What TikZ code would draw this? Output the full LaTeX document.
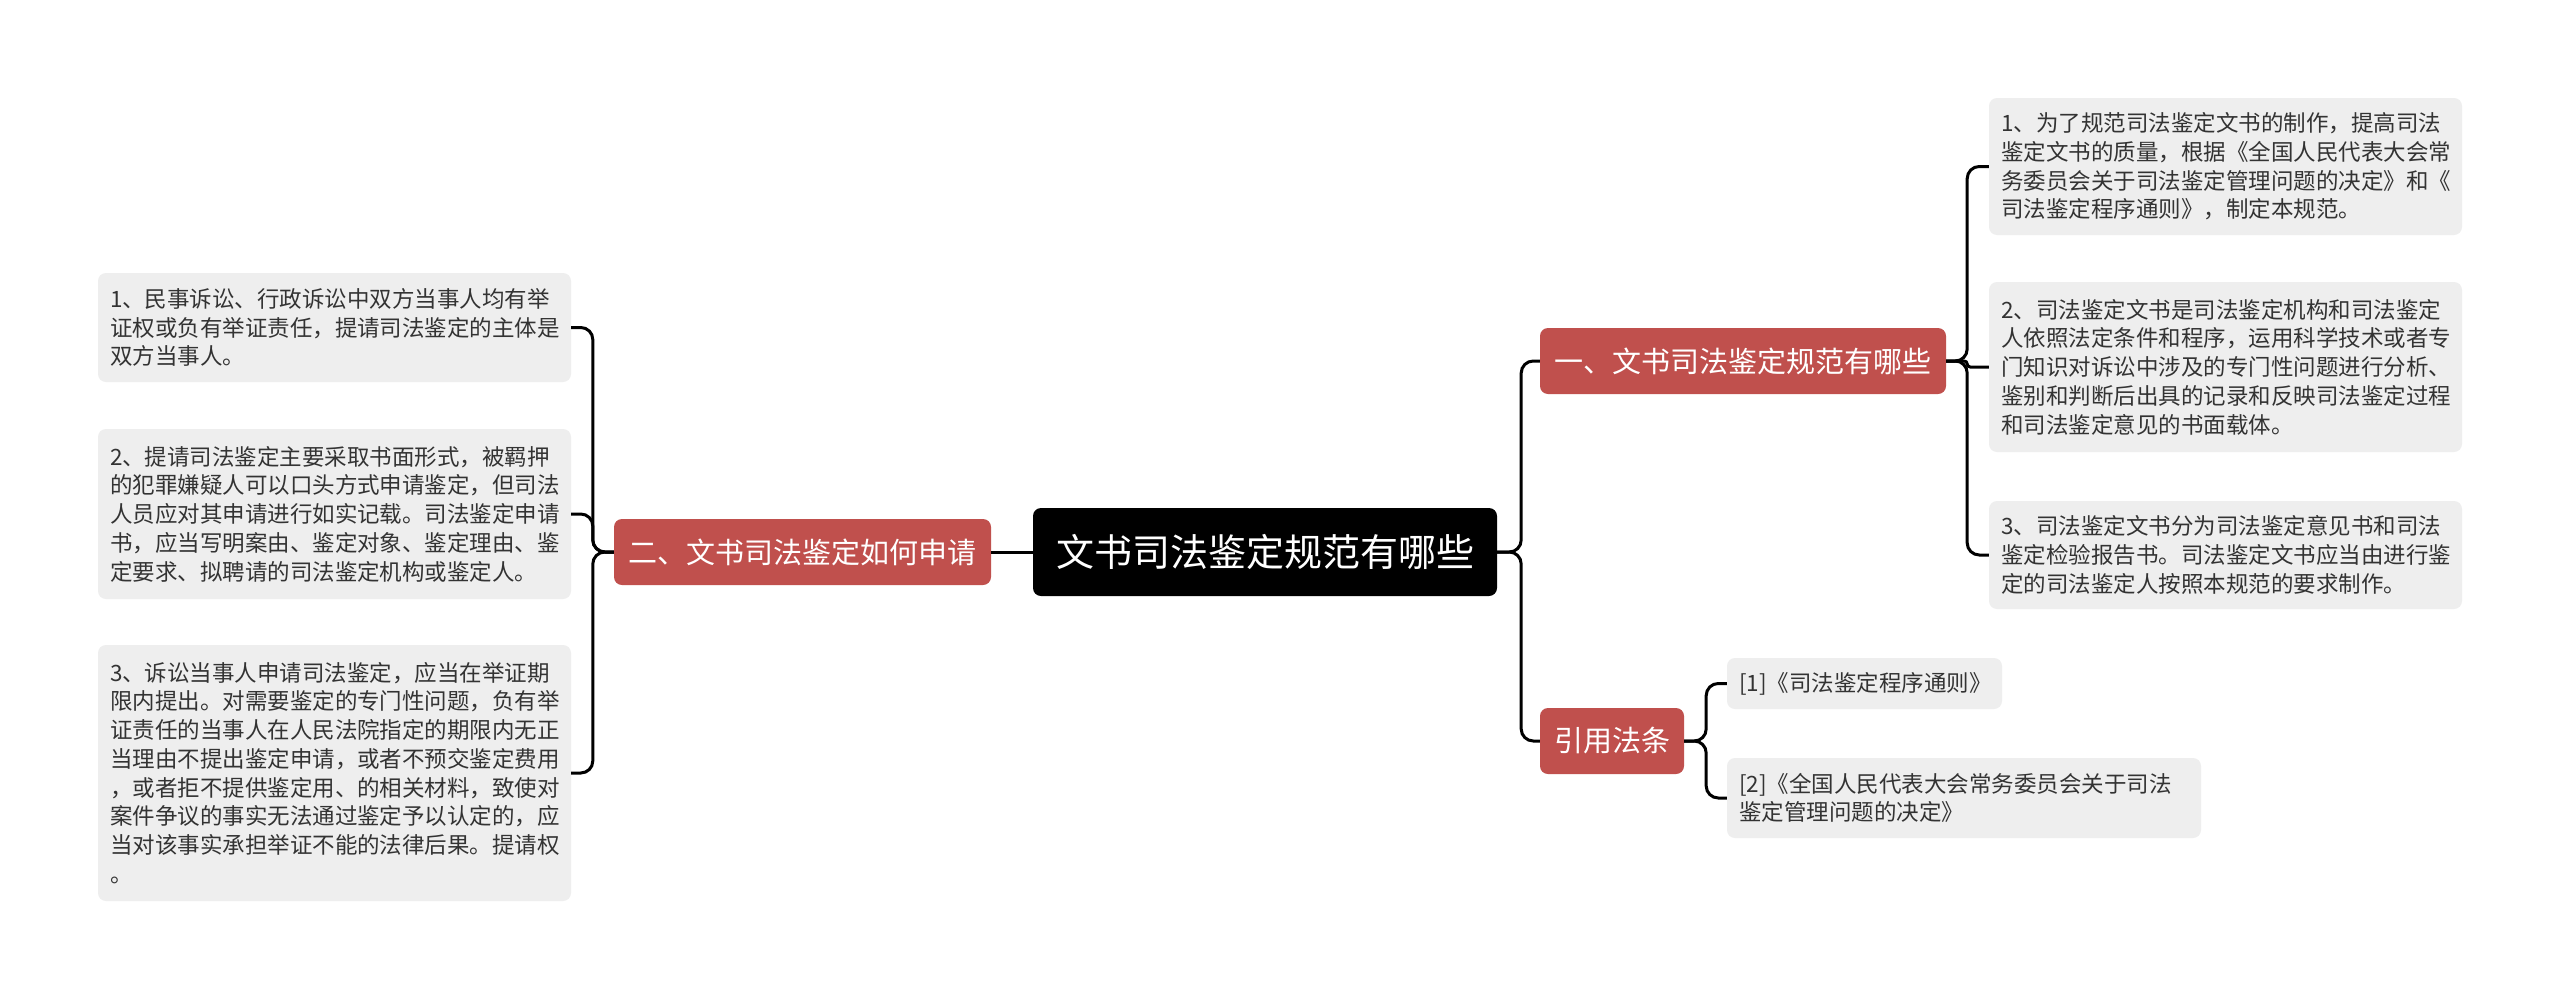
\documentclass[tikz,border=0pt]{standalone}
\usepackage{fontspec}
\newfontfamily\cjk{Noto Sans CJK SC}
\definecolor{redbox}{RGB}{192,80,77}
\definecolor{leafbg}{RGB}{238,238,238}
\definecolor{leaftxt}{RGB}{51,51,51}
\begin{document}
\begin{tikzpicture}[x=1pt,y=-1pt,
  leafbox/.style={fill=leafbg, rounded corners=8pt, text=leaftxt,
    font=\cjk\fontsize{22.5}{28.75}\selectfont, align=left,
    inner xsep=12pt, inner ysep=0pt, text width=449pt, anchor=center},
  redbox/.style={fill=redbox, rounded corners=8pt, text=white,
    font=\cjk\fontsize{29}{34}\selectfont, inner sep=0pt,
    minimum height=66pt, anchor=center},
  rootbox/.style={fill=black, rounded corners=8pt, text=white,
    font=\cjk\fontsize{38}{44}\selectfont, inner sep=0pt,
    minimum width=464pt, minimum height=88pt, anchor=center},
  conn/.style={draw=black, line width=3pt, rounded corners=12pt},
  connsmall/.style={draw=black, line width=3pt, rounded corners=3pt}]
\fill[white] (0,0) rectangle (2560,999);
\useasboundingbox (0,0) rectangle (2560,999);

% root
\node[rootbox] (c) at (1265,552) {文书司法鉴定规范有哪些};

% left branch
\node[redbox, minimum width=377pt] (lp) at (802.5,552) {二、文书司法鉴定如何申请};
\node[leafbox, minimum height=109pt] (L1) at (334.5,327.5) {1、民事诉讼、行政诉讼中双方当事人均有举\\证权或负有举证责任，提请司法鉴定的主体是\\双方当事人。};
\node[leafbox, minimum height=170pt] (L2) at (334.5,514) {2、提请司法鉴定主要采取书面形式，被羁押\\的犯罪嫌疑人可以口头方式申请鉴定，但司法\\人员应对其申请进行如实记载。司法鉴定申请\\书，应当写明案由、鉴定对象、鉴定理由、鉴\\定要求、拟聘请的司法鉴定机构或鉴定人。};
\node[leafbox, minimum height=256pt] (L3) at (334.5,773) {3、诉讼当事人申请司法鉴定，应当在举证期\\限内提出。对需要鉴定的专门性问题，负有举\\证责任的当事人在人民法院指定的期限内无正\\当理由不提出鉴定申请，或者不预交鉴定费用\\，或者拒不提供鉴定用、的相关材料，致使对\\案件争议的事实无法通过鉴定予以认定的，应\\当对该事实承担举证不能的法律后果。提请权\\。};

% right branch 1
\node[redbox, minimum width=406pt] (r1) at (1743,361) {一、文书司法鉴定规范有哪些};
\node[leafbox, minimum height=137pt] (R1) at (2225.5,166.5) {1、为了规范司法鉴定文书的制作，提高司法\\鉴定文书的质量，根据《全国人民代表大会常\\务委员会关于司法鉴定管理问题的决定》和《\\司法鉴定程序通则》，制定本规范。};
\node[leafbox, minimum height=170pt] (R2) at (2225.5,367) {2、司法鉴定文书是司法鉴定机构和司法鉴定\\人依照法定条件和程序，运用科学技术或者专\\门知识对诉讼中涉及的专门性问题进行分析、\\鉴别和判断后出具的记录和反映司法鉴定过程\\和司法鉴定意见的书面载体。};
\node[leafbox, minimum height=108pt] (R3) at (2225.5,555) {3、司法鉴定文书分为司法鉴定意见书和司法\\鉴定检验报告书。司法鉴定文书应当由进行鉴\\定的司法鉴定人按照本规范的要求制作。};

% right branch 2
\node[redbox, minimum width=144pt] (r2) at (1612,741) {引用法条};
\node[leafbox, text width=251pt, minimum height=51pt] (F1) at (1864.5,683.5) {[1]《司法鉴定程序通则》};
\node[leafbox, text width=450pt, minimum height=80pt] (F2) at (1964,798) {[2]《全国人民代表大会常务委员会关于司法\\鉴定管理问题的决定》};

% connectors
\draw[conn] (c.west) -- (lp.east);
\draw[conn] (lp.west) -- ++(-21,0) |- (L1.east);
\draw[conn] (lp.west) -- ++(-21,0) |- (L2.east);
\draw[conn] (lp.west) -- ++(-21,0) |- (L3.east);
\draw[conn] (c.east) -- ++(24,0) |- (r1.west);
\draw[conn] (c.east) -- ++(24,0) |- (r2.west);
\draw[conn] (r1.east) -- ++(21,0) |- (R1.west);
\draw[connsmall] (r1.east) -- ++(21,0) |- (R2.west);
\draw[conn] (r1.east) -- ++(21,0) |- (R3.west);
\draw[conn] (r2.east) -- ++(22,0) |- (F1.west);
\draw[conn] (r2.east) -- ++(22,0) |- (F2.west);
\end{tikzpicture}
\end{document}
